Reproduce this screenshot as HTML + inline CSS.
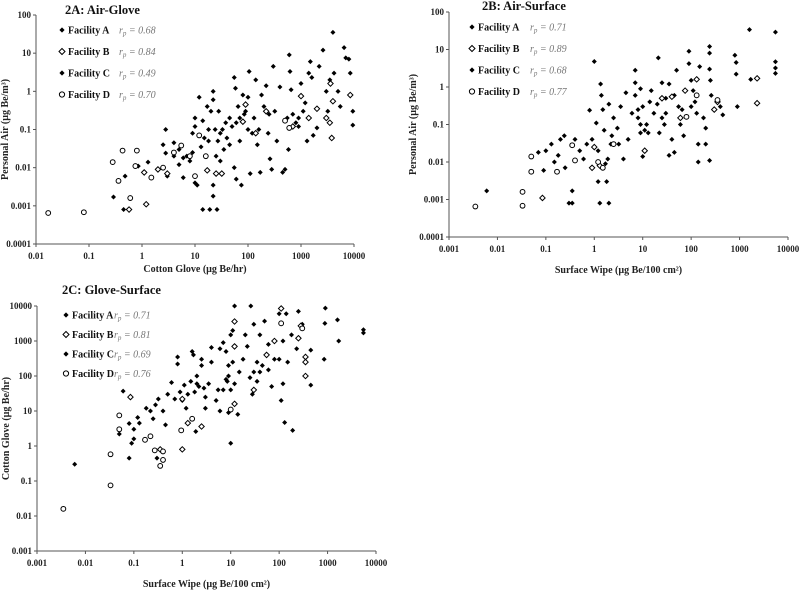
<!DOCTYPE html>
<html><head><meta charset="utf-8">
<style>
html,body{margin:0;padding:0;background:#fff;}
svg{display:block;font-family:"Liberation Serif",serif;}
.tick{font-size:9px;font-weight:bold;fill:#222;}
.ttl{font-size:12.5px;font-weight:bold;fill:#111;}
.axt{font-size:10px;font-weight:bold;fill:#222;}
.leg{font-size:10px;font-weight:bold;fill:#111;}
.rp{font-size:10px;font-style:italic;fill:#777;}
</style></head>
<body>
<svg id="chart" width="800" height="590" viewBox="0 0 800 590"></svg>
<script>
// ---- data (real values, log axes) ----
const aFacA = [[0.29,0.0017],[0.45,0.0008],[0.48,0.006],[0.8,0.028],[0.85,0.011],[1.3,0.014],[2.8,0.1],[2.5,0.04],[2.8,0.024],[3,0.006],[4,0.045],[4,0.02],[5,0.012],[5,0.03],[6,0.0055],[7,0.02],[8,0.015],[9,0.08],[10,0.2],[10,0.12],[10,0.004],[11,0.0035],[12,0.7],[14,0.17],[14,0.0008],[17,0.4],[18,0.05],[19,0.0008],[20,0.3],[22,1.0],[22,0.6],[22,0.0018],[22,0.0035],[24,0.1],[25,0.02],[26,0.0008],[28,0.3],[30,0.08],[30,0.015],[35,0.03],[40,0.06],[45,0.2],[50,0.12],[55,2.3],[55,0.01],[58,1.2],[60,0.005],[65,0.4],[70,0.05],[75,0.0035],[80,0.8],[90,0.3],[100,0.7],[100,0.1],[105,3.3],[110,0.007],[130,0.2],[140,2.0],[150,0.04],[170,0.0075],[180,0.8],[200,0.4],[220,1.4],[250,0.25],[260,0.017],[280,0.009],[300,4.5],[320,0.3],[350,0.05],[400,1.3],[450,0.0075],[500,0.009],[550,0.2],[580,0.03],[600,9],[620,3.3],[650,1.1],[700,0.25],[800,0.15],[900,0.12],[1000,1.6],[1100,0.3],[1300,0.05],[1400,3],[1500,6],[1600,2.3],[1700,0.07],[2000,0.11],[2200,4.5],[2600,12],[3000,1],[3200,0.3],[3500,2],[4000,35],[4200,3],[5000,1],[5500,0.4],[6500,14],[7000,7.5],[8000,7],[8500,3],[9500,0.3],[9500,0.13],[15,0.06],[33,0.1],[45,0.04],[60,0.15],[85,0.25],[120,0.08],[6,0.018],[9,0.025],[13,0.035],[18,0.1],[27,0.05],[38,0.15],[70,0.2],[160,0.1],[240,0.08],[900,0.2],[1200,0.5]];
const aFacB = [[0.57,0.0008],[1.2,0.0011],[1.1,0.0075],[2,0.009],[3,0.007],[17,0.0085],[25,0.007],[32,0.007],[80,0.16],[90,0.45],[140,0.08],[220,0.3],[700,0.12],[1000,0.75],[1400,0.2],[2000,0.35],[3000,0.2],[3600,1.6],[4000,0.55],[3800,0.06],[8500,0.8],[3500,0.15]];
const aFacD = [[0.017,0.00065],[0.08,0.00068],[0.28,0.014],[0.36,0.0045],[0.43,0.028],[0.6,0.0016],[0.75,0.011],[0.8,0.028],[1.5,0.0055],[2.5,0.01],[4,0.025],[5.5,0.038],[10,0.006],[12,0.07],[8,0.02],[16,0.02],[500,0.17],[600,0.11]];
const bFacA = [[0.006,0.0017],[0.07,0.018],[0.09,0.006],[0.1,0.02],[0.13,0.03],[0.15,0.01],[0.2,0.04],[0.24,0.05],[0.25,0.007],[0.3,0.0008],[0.35,0.0017],[0.35,0.0008],[0.4,0.04],[0.5,0.02],[0.6,0.012],[0.8,0.24],[0.9,0.04],[1,4.8],[1.1,0.11],[1.2,0.003],[1.3,0.0008],[1.35,1.2],[1.4,0.6],[1.5,0.25],[1.6,0.07],[1.7,0.009],[1.8,0.003],[2,0.0008],[2,0.35],[2.3,0.05],[2.5,0.15],[3,0.08],[3.5,0.3],[4,0.012],[4.5,0.7],[5,0.04],[6,0.2],[7,2.8],[7,1.3],[7,0.6],[8,0.15],[9,0.9],[9,0.06],[10,0.3],[10,0.014],[12,0.1],[13,0.06],[15,0.8],[17,0.2],[21,6],[22,0.06],[25,1.3],[25,0.15],[30,0.5],[35,1.2],[35,0.015],[40,0.04],[45,0.018],[50,2.8],[55,0.3],[60,0.1],[70,0.05],[90,9],[90,4.2],[100,1.5],[110,0.8],[130,0.2],[140,0.03],[140,0.01],[150,3.5],[200,0.08],[200,0.03],[240,12],[240,8],[240,3],[240,0.011],[250,1.5],[260,0.6],[400,0.3],[450,0.18],[800,7],[850,4.5],[850,2.2],[900,0.3],[1600,34],[1700,1.6],[5500,29],[5500,4.7],[5500,3.2],[5500,2.3],[1.2,0.02],[2.2,0.03],[8,0.25],[11,0.07],[20,0.35],[28,0.1],[45,0.6],[120,0.4],[0.18,0.015],[0.7,0.03],[1.9,0.012],[3.2,0.03],[9,0.1],[14,0.4],[30,0.2],[65,0.25],[100,0.3],[180,0.15]];
const bFacB = [[0.085,0.0011],[0.9,0.007],[1,0.025],[1.3,0.008],[11,0.02],[25,0.5],[40,0.55],[75,0.8],[130,1.6],[300,0.25],[350,0.4],[2300,1.7],[2300,0.37],[60,0.15]];
const bFacD = [[0.0035,0.00065],[0.033,0.0016],[0.033,0.00068],[0.05,0.014],[0.05,0.0055],[0.17,0.0055],[0.35,0.028],[0.4,0.011],[1.2,0.01],[1.5,0.007],[2.5,0.03],[80,0.16],[130,0.6],[350,0.45]];
const cFacA = [[0.006,0.3],[0.06,37],[0.05,2.2],[0.08,0.45],[0.08,4.4],[0.09,1.2],[0.1,3],[0.1,1.6],[0.12,6.5],[0.13,4.5],[0.18,12],[0.22,10],[0.25,6],[0.28,15],[0.3,0.45],[0.32,22],[0.4,10],[0.45,4],[0.5,30],[0.6,65],[0.7,22],[0.8,350],[0.8,220],[0.9,35],[1,20],[1.1,55],[1.2,12],[1.5,70],[1.6,500],[1.7,400],[1.8,35],[1.9,2.6],[2,100],[2.2,50],[2.5,200],[2.5,300],[3,25],[3,12],[3.5,60],[4,650],[4,250],[5,20],[6,10],[6,600],[7,900],[7,40],[8,80],[8,500],[9,200],[9,9],[10,1.2],[10,1500],[11,2000],[12,10000],[12,60],[14,8],[15,130],[18,300],[20,1500],[22,700],[26,10000],[28,30],[30,3000],[30,130],[35,70],[40,1500],[45,200],[50,3700],[60,800],[70,50],[80,300],[100,6000],[110,20],[120,60],[130,4.7],[140,6000],[150,250],[180,1500],[190,2.8],[230,600],[250,7000],[300,3000],[450,550],[450,55],[850,300],[880,3200],[900,8700],[1600,4000],[1700,1000],[5500,2100],[5500,1700],[2,60],[9,100],[10,40],[40,130],[100,300],[1.3,30],[2.8,45],[5.5,40],[8.5,70],[11,250],[25,90],[35,250],[60,150],[120,1000]];
const cFacB = [[0.085,25],[0.35,0.8],[1,0.8],[1,22],[1.3,4.5],[2.5,3.6],[12,3600],[12,700],[12,16],[30,40],[55,400],[80,1000],[110,8500],[250,1200],[280,2700],[350,350],[350,100],[350,250]];
const cFacD = [[0.0035,0.016],[0.033,0.58],[0.033,0.075],[0.05,7.5],[0.05,3],[0.17,1.5],[0.22,1.9],[0.27,0.75],[0.35,0.27],[0.4,0.7],[0.4,0.4],[0.95,2.8],[1.6,6],[10,11],[110,3200],[300,2300]];
const ticksA_x = ["0.01","0.1","1","10","100","1000","10000"];
const ticksA_y = ["0.0001","0.001","0.01","0.1","1","10","100"];
const ticksB_x = ["0.001","0.01","0.1","1","10","100","1000","10000"];
const ticksC_y = ["0.001","0.01","0.1","1","10","100","1000","10000"];
const rpA = ["0.68","0.84","0.49","0.70"];
const rpB = ["0.71","0.89","0.68","0.77"];
const rpC = ["0.71","0.81","0.69","0.76"];
const facilities = ["Facility A","Facility B","Facility C","Facility D"];

const NS="http://www.w3.org/2000/svg";
const svg=document.getElementById('chart');
function mk(tag,attrs,parent){const e=document.createElementNS(NS,tag);for(const k in attrs)e.setAttribute(k,attrs[k]);(parent||svg).appendChild(e);return e;}
function txt(s,attrs,parent){const e=mk('text',attrs,parent);e.textContent=s;return e;}

function panel(cfg){
  const g=mk('g',{});
  
  
  const lx0=Math.log10(cfg.xmin),lx1=Math.log10(cfg.xmax),ly0=Math.log10(cfg.ymin),ly1=Math.log10(cfg.ymax);
  const sx=v=>cfg.x0+(Math.log10(v)-lx0)/(lx1-lx0)*(cfg.x1-cfg.x0);
  const sy=v=>cfg.y0-(Math.log10(v)-ly0)/(ly1-ly0)*(cfg.y0-cfg.y1);
  const ax=mk('path',{d:`M${cfg.x0},${cfg.y1}V${cfg.y0}H${cfg.x1}`,stroke:'#555',fill:'none','stroke-width':1},g);
  
  
  cfg.xt.forEach(t=>{const x=sx(parseFloat(t));
    mk('line',{x1:x,x2:x,y1:cfg.y0,y2:cfg.y0+3,stroke:'#555'},g);
    const e=txt(t,{x:x,y:cfg.y0+15,'text-anchor':'middle',class:'tick'},g);
    
    });
  cfg.yt.forEach(t=>{const y=sy(parseFloat(t));
    mk('line',{x1:cfg.x0-3,x2:cfg.x0,y1:y,y2:y,stroke:'#555'},g);
    const e=txt(t,{x:cfg.x0-5,y:y+3,'text-anchor':'end',class:'tick'},g);
    
    });
  const series=[[cfg.A,'fill'],[cfg.B,'diamond'],[cfg.D,'circle']];
  series.forEach(([pts,kind])=>pts.forEach(p=>{
    const x=sx(p[0]),y=sy(p[1]);let m;
    if(kind==='fill') m=mk('path',{d:`M${x},${y-2.5}L${x+2.5},${y}L${x},${y+2.5}L${x-2.5},${y}Z`,fill:'#000'},g);
    else if(kind==='diamond') m=mk('path',{d:`M${x},${y-2.7}L${x+2.7},${y}L${x},${y+2.7}L${x-2.7},${y}Z`,fill:'#fff',stroke:'#000','stroke-width':1},g);
    else m=mk('circle',{cx:x,cy:y,r:2.4,fill:'#fff',stroke:'#000','stroke-width':1},g);
    
    
  }));
  const t=txt(cfg.title,{x:cfg.tx,y:cfg.ty,class:'ttl'},g);
  
  
  const xl=txt(cfg.xlab,{x:(cfg.x0+cfg.x1)/2,y:cfg.xly,'text-anchor':'middle',class:'axt'},g);
  
  
  const yl=txt(cfg.ylab,{x:0,y:0,'text-anchor':'middle',class:'axt',transform:`translate(${cfg.ylx},${(cfg.y0+cfg.y1)/2}) rotate(-90)`},g);
  
  
  facilities.forEach((f,i)=>{
    const y=cfg.ly+i*cfg.ld,x=cfg.lx;
    const lg=mk('g',{},g);
    
    
    if(i===1) mk('path',{d:`M${x},${y-3}L${x+3},${y}L${x},${y+3}L${x-3},${y}Z`,fill:'#fff',stroke:'#000'},lg);
    else if(i===3) mk('circle',{cx:x,cy:y,r:2.6,fill:'#fff',stroke:'#000'},lg);
    else mk('path',{d:`M${x},${y-2.6}L${x+2.6},${y}L${x},${y+2.6}L${x-2.6},${y}Z`,fill:'#000'},lg);
    txt(f,{x:x+6,y:y+3.5,class:'leg'},lg);
    const r=txt('',{x:cfg.rx,y:y+3.5,class:'rp'},lg);
    r.innerHTML=`r<tspan font-size="7" dy="2">p</tspan><tspan dy="-2"> = ${cfg.rp[i]}</tspan>`;
  });
}
panel({name:'panel-2a-air-glove',x0:36,x1:354,y0:244,y1:15,xmin:0.01,xmax:10000,ymin:0.0001,ymax:100,xt:ticksA_x,yt:ticksA_y,A:aFacA,B:aFacB,D:aFacD,
 title:'2A:  Air-Glove',tx:65,ty:14,xlab:'Cotton  Glove (µg Be/hr)',xly:272,ylab:'Personal Air  (µg Be/m³)',ylx:8,lx:62,ly:30,ld:21.5,rx:119,rp:rpA});
panel({name:'panel-2b-air-surface',x0:449,x1:788,y0:237,y1:12,xmin:0.001,xmax:10000,ymin:0.0001,ymax:100,xt:ticksB_x,yt:ticksA_y,A:bFacA,B:bFacB,D:bFacD,
 title:'2B:  Air-Surface',tx:482,ty:10,xlab:'Surface Wipe (µg Be/100 cm²)',xly:273,ylab:'Personal Air  (µg Be/m³)',ylx:416,lx:472,ly:27,ld:21.5,rx:530,rp:rpB});
panel({name:'panel-2c-glove-surface',x0:37,x1:376,y0:551,y1:306,xmin:0.001,xmax:10000,ymin:0.001,ymax:10000,xt:ticksB_x,yt:ticksC_y,A:cFacA,B:cFacB,D:cFacD,
 title:'2C: Glove-Surface',tx:62,ty:294,xlab:'Surface Wipe  (µg Be/100 cm²)',xly:587,ylab:'Cotton Glove (µg Be/hr)',ylx:9,lx:66,ly:315,ld:19.5,rx:114,rp:rpC});
</script>
</body></html>
